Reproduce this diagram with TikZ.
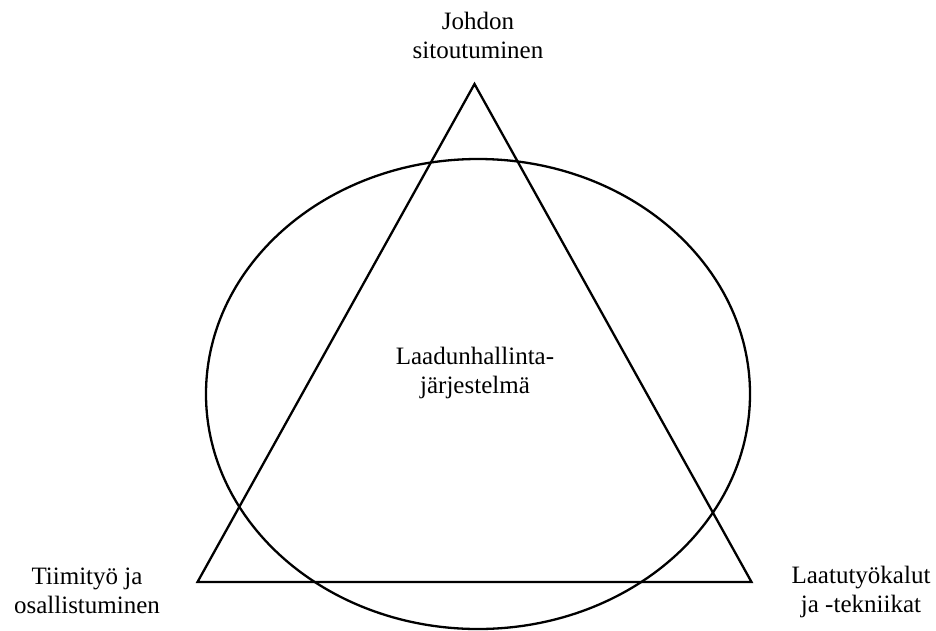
\documentclass[tikz,border=0pt]{standalone}
\usepackage{fontspec}
\setmainfont{Liberation Serif}
\usepackage{tikz}
\usetikzlibrary{shapes.geometric}

\begin{document}
\begin{tikzpicture}[x=1pt,y=-1pt,semithick]
        \tikzstyle{qlabel}=[
            align=center,
            inner sep=0pt,
            text=black,
            font=\fontsize{25}{29}\selectfont
        ]
        \tikzstyle{qline}=[
            draw=black,
            line width=2.3pt
        ]

        \useasboundingbox (0,0) rectangle (936,630);

        \coordinate (top) at (474.5,84);
        \coordinate (left) at (197.5,582);
        \coordinate (right) at (751.5,582);

        \node[qline, ellipse, minimum width=544pt, minimum height=470pt, inner sep=0pt] (system) at (478,394){};

        \node[qlabel] (mgmt) at (478,35){Johdon\\sitoutuminen};
        \node[qlabel] (core) at (475,373){Laadunhallinta-\\järjestelmä};
        \node[qlabel] (team) at (87,591){Tiimityö ja\\osallistuminen};
        \node[qlabel] (tools) at (861,592){Laatutyökalut\\ja -tekniikat};

        \draw[qline] (top) -- (left) -- (right) -- cycle;
        % \draw[qline] (system.north) -- (top);

    \end{tikzpicture}
\end{document}
